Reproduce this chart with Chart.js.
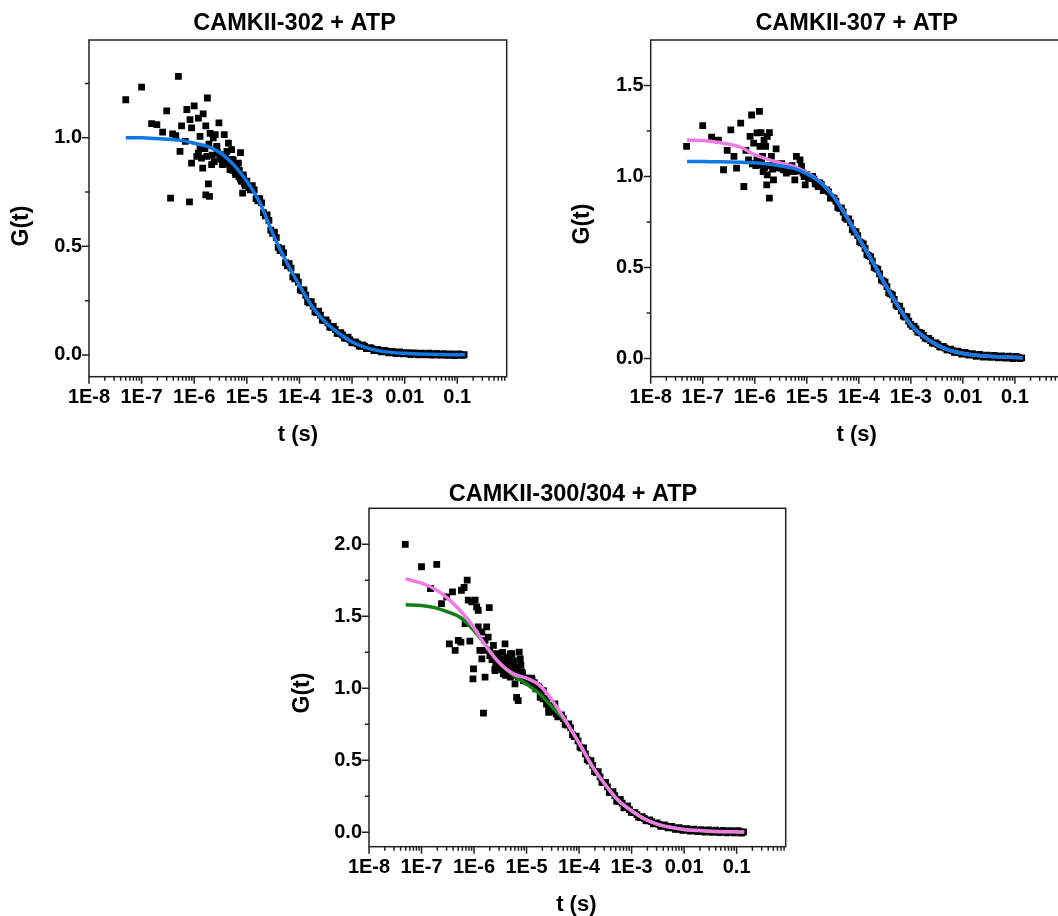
<!DOCTYPE html>
<html>
<head>
<meta charset="utf-8">
<script src="https://cdn.jsdelivr.net/npm/chart.js"></script>
<style>
  html, body { margin: 0; padding: 0; background: #fff; width: 1058px; height: 916px; overflow: hidden; }
  .panel { position: absolute; }
</style>
</head>
<body>
<div class="panel" style="left:0px;top:0px"><canvas id="c302" width="530" height="450"></canvas></div>
<div class="panel" style="left:560px;top:0px"><canvas id="c307" width="510" height="450"></canvas></div>
<div class="panel" style="left:280px;top:460px"><canvas id="c300" width="520" height="456"></canvas></div>
<script>
// x axis (lag time, s)
const xTickValues = [1e-8, 1e-7, 1e-6, 1e-5, 1e-4, 1e-3, 0.01, 0.1];
const xTickLabels = ['1E-8', '1E-7', '1E-6', '1E-5', '1E-4', '1E-3', '0.01', '0.1'];

// early, noisy part of each curve: [t, G]
const early302 = [
  [5.0e-8, 1.175], [1.0e-7, 1.233], [5.0e-7, 1.283], [3.0e-7, 1.124], [1.55e-7, 1.065], [1.95e-7, 1.06],
  [2.51e-7, 1.026], [3.89e-7, 1.018], [4.47e-7, 1.01], [5.75e-7, 1.055], [7.24e-7, 1.13], [1.0e-6, 1.147],
  [8.32e-7, 1.083], [8.91e-7, 1.045], [1.20e-6, 1.09], [1.48e-6, 1.11], [1.78e-6, 1.183], [1.66e-6, 1.055],
  [1.29e-6, 1.006], [2.0e-6, 1.02], [2.51e-6, 1.014], [2.95e-6, 1.068], [3.72e-6, 1.014], [4.47e-6, 0.975],
  [5.37e-7, 0.937], [6.76e-7, 0.983], [8.91e-7, 0.883], [1.12e-6, 0.914], [1.29e-6, 0.952], [1.45e-6, 0.86],
  [1.74e-6, 0.914], [2.14e-6, 0.876], [2.69e-6, 0.952], [3.09e-6, 0.906], [3.47e-6, 0.876], [4.17e-6, 0.937],
  [4.79e-6, 0.853], [5.50e-6, 0.899], [6.03e-6, 0.837], [6.92e-6, 0.883], [7.59e-6, 0.932], [8.51e-6, 0.822],
  [8.32e-6, 0.745], [1.86e-6, 0.788], [1.66e-6, 0.737], [1.95e-6, 0.73], [3.55e-7, 0.722], [8.13e-7, 0.705],
  [1.20e-6, 0.929], [1.38e-6, 0.906], [3.09e-6, 0.922], [4.47e-6, 0.899], [5.50e-6, 0.883], [6.46e-6, 0.86],
  [8.51e-6, 0.829], [3.47e-6, 0.88], [2.69e-6, 0.96], [5.13e-6, 0.945],
  [5.01e-6, 0.87], [5.37e-6, 0.85], [5.75e-6, 0.86], [6.17e-6, 0.83], [6.61e-6, 0.84], [7.08e-6, 0.82],
  [7.59e-6, 0.81], [8.13e-6, 0.80], [8.71e-6, 0.81], [9.33e-6, 0.78],
  [2.2e-6, 0.92], [2.4e-6, 0.89], [2.8e-6, 0.93], [3.3e-6, 0.90], [3.9e-6, 0.91], [4.3e-6, 0.88],
  [5.0e-6, 0.90], [5.8e-6, 0.86], [6.5e-6, 0.83], [7.2e-6, 0.85], [7.9e-6, 0.80], [9.0e-6, 0.79],
  [1.6e-6, 0.95], [1.9e-6, 0.97], [2.3e-6, 1.00]
];
const early307 = [
  [4.90e-8, 1.165], [1.0e-7, 1.28], [1.48e-7, 1.216], [2.0e-7, 1.20], [2.51e-7, 1.037], [2.95e-7, 1.143],
  [3.47e-7, 1.256], [3.98e-7, 1.11], [4.47e-7, 1.046], [5.37e-7, 1.293], [6.17e-7, 0.945], [6.76e-7, 1.143],
  [8.13e-7, 1.22], [8.71e-7, 1.338], [9.55e-7, 1.183], [1.10e-6, 1.24], [1.23e-6, 1.358], [1.26e-6, 1.165],
  [1.32e-6, 1.241], [1.41e-6, 1.11], [1.51e-6, 1.20], [1.62e-6, 1.165], [1.74e-6, 1.22], [1.91e-6, 1.241],
  [1.45e-6, 1.027], [1.70e-6, 0.954], [1.74e-6, 1.009], [1.91e-6, 0.881], [2.29e-6, 0.982], [2.57e-6, 1.152],
  [7.59e-7, 1.091], [1.10e-6, 1.091], [1.26e-6, 1.064], [2.09e-6, 1.11], [2.63e-6, 1.064], [3.02e-6, 1.046],
  [3.55e-6, 1.037], [4.07e-6, 1.018], [4.79e-6, 1.055], [5.50e-6, 1.027], [5.89e-6, 0.982], [6.31e-6, 1.11],
  [7.41e-6, 1.091], [7.94e-6, 1.055], [8.51e-6, 1.018], [9.33e-6, 0.954], [1.29e-5, 1.0], [1.45e-5, 0.963],
  [1.66e-5, 0.945], [9.0e-7, 1.07], [1.05e-6, 1.06], [1.15e-6, 1.10], [1.35e-6, 1.08], [1.55e-6, 1.05],
  [1.8e-6, 1.06], [2.2e-6, 1.04], [2.4e-6, 1.07], [2.8e-6, 1.05], [3.3e-6, 1.07], [3.8e-6, 1.05],
  [4.4e-6, 1.04], [5.2e-6, 1.06], [6.8e-6, 1.03], [8.9e-6, 1.0]
];
const early300 = [
  [4.90e-8, 2.0], [1.0e-7, 1.844], [1.95e-7, 1.86], [1.48e-7, 1.693], [2.40e-7, 1.588], [3.02e-7, 1.635],
  [3.89e-7, 1.67], [5.75e-7, 1.681], [6.46e-7, 1.70], [7.41e-7, 1.751], [3.39e-7, 1.309], [4.37e-7, 1.263],
  [5.01e-7, 1.333], [5.62e-7, 1.321], [8.32e-7, 1.328], [6.76e-7, 1.449], [7.76e-7, 1.612], [9.12e-7, 1.60],
  [1.05e-6, 1.612], [1.12e-6, 1.565], [1.20e-6, 1.542], [9.77e-7, 1.135], [9.55e-7, 1.065], [1.62e-6, 1.077],
  [1.51e-6, 0.828], [1.95e-6, 1.56], [1.20e-6, 1.426], [1.41e-6, 1.391], [1.51e-6, 1.263], [1.62e-6, 1.333],
  [1.74e-6, 1.426], [1.86e-6, 1.356], [2.0e-6, 1.263], [1.29e-6, 1.263], [1.41e-6, 1.205], [2.34e-6, 1.298],
  [2.69e-6, 1.24], [2.51e-6, 1.123], [3.16e-6, 1.147], [3.89e-6, 1.309], [4.17e-6, 1.216], [4.47e-6, 1.123],
  [4.90e-6, 1.077], [5.25e-6, 1.24], [5.62e-6, 1.17], [6.03e-6, 1.03], [6.46e-6, 0.937], [6.92e-6, 0.914],
  [7.24e-6, 1.251], [7.59e-6, 1.205], [8.13e-6, 1.112], [8.71e-6, 1.053], [1.82e-5, 0.937], [2.09e-5, 0.984],
  [2.40e-5, 0.891], [2.63e-5, 0.833], [3.47e-5, 0.891], [3.72e-5, 0.821], [2.51e-6, 1.135], [3.63e-6, 1.10],
  [4.90e-6, 1.239], [5.62e-6, 1.192], [2.88e-6, 1.215], [3.39e-6, 1.18], [2.0e-6, 1.227],
  [3.0e-6, 1.17], [3.4e-6, 1.13], [3.7e-6, 1.20], [4.2e-6, 1.16], [4.6e-6, 1.19], [5.3e-6, 1.12],
  [5.8e-6, 1.09], [6.2e-6, 1.15], [6.6e-6, 1.13], [7.0e-6, 1.08], [7.8e-6, 1.16], [8.4e-6, 1.10],
  [9.2e-6, 1.07], [9.7e-6, 1.05], [2.2e-6, 1.20], [2.6e-6, 1.18], [3.5e-6, 1.25], [4.0e-6, 1.09],
  [5.0e-6, 1.16], [1.1e-5, 1.06], [1.25e-5, 1.07], [1.4e-5, 1.04], [1.55e-5, 1.02], [1.7e-5, 1.01]
];

// dense late part, shared lag times (two interleaved grids)
const lagT = [
  1.0e-5, 1.17e-5, 1.38e-5, 1.62e-5, 1.91e-5, 2.24e-5, 2.63e-5, 3.09e-5, 3.63e-5, 4.27e-5,
  5.01e-5, 5.89e-5, 6.92e-5, 8.13e-5, 9.55e-5, 1.12e-4, 1.32e-4, 1.55e-4, 1.82e-4, 2.14e-4,
  2.51e-4, 2.95e-4, 3.47e-4, 4.07e-4, 4.79e-4, 5.62e-4, 6.61e-4, 7.76e-4, 9.12e-4, 1.07e-3,
  1.26e-3, 1.48e-3, 1.74e-3, 2.04e-3, 2.40e-3, 2.82e-3, 3.31e-3, 3.89e-3, 4.57e-3, 5.37e-3,
  6.31e-3, 7.41e-3, 8.71e-3, 1.02e-2, 1.20e-2, 1.41e-2, 1.66e-2, 1.95e-2, 2.29e-2, 2.69e-2,
  3.16e-2, 3.72e-2, 4.37e-2, 5.13e-2, 6.03e-2, 7.08e-2, 8.32e-2, 9.77e-2, 1.15e-1, 1.35e-1
];
const lagT2 = [
  1.08e-5, 1.27e-5, 1.50e-5, 1.76e-5, 2.07e-5, 2.43e-5, 2.85e-5, 3.35e-5, 3.94e-5, 4.62e-5,
  5.43e-5, 6.38e-5, 7.50e-5, 8.81e-5, 1.04e-4, 1.22e-4, 1.43e-4, 1.68e-4, 1.97e-4, 2.32e-4,
  2.72e-4, 3.20e-4, 3.76e-4, 4.42e-4, 5.19e-4, 6.10e-4, 7.16e-4, 8.41e-4, 9.89e-4, 1.16e-3,
  1.36e-3, 1.60e-3, 1.88e-3, 2.21e-3, 2.60e-3, 3.05e-3, 3.59e-3, 4.22e-3, 4.95e-3, 5.82e-3,
  6.84e-3, 8.04e-3, 9.44e-3, 1.11e-2, 1.30e-2, 1.53e-2, 1.80e-2, 2.11e-2, 2.48e-2, 2.92e-2,
  3.43e-2, 4.03e-2, 4.73e-2, 5.56e-2, 6.53e-2, 7.67e-2, 9.02e-2, 1.06e-1, 1.24e-1
];
const tail302 = [
  0.80, 0.76, 0.76, 0.71, 0.70, 0.64, 0.62, 0.56, 0.54, 0.48,
  0.47, 0.41, 0.40, 0.35, 0.335, 0.295, 0.275, 0.24, 0.225, 0.195,
  0.183, 0.158, 0.148, 0.127, 0.118, 0.098, 0.092, 0.078, 0.07, 0.056,
  0.052, 0.041, 0.039, 0.03, 0.029, 0.021, 0.021, 0.016, 0.016, 0.012,
  0.012, 0.009, 0.010, 0.007, 0.008, 0.005, 0.007, 0.004, 0.005, 0.003,
  0.004, 0.002, 0.004, 0.001, 0.003, 0.001, 0.002, 0.000, 0.002, 0.001
];
const tail302b = [
  0.77, 0.78, 0.72, 0.72, 0.655, 0.645, 0.575, 0.565, 0.495, 0.49,
  0.425, 0.42, 0.36, 0.36, 0.30, 0.30, 0.245, 0.245, 0.198, 0.202,
  0.16, 0.162, 0.128, 0.132, 0.099, 0.103, 0.078, 0.082, 0.057, 0.06,
  0.041, 0.046, 0.029, 0.034, 0.02, 0.026, 0.014, 0.021, 0.01, 0.016,
  0.006, 0.014, 0.005, 0.011, 0.002, 0.010, 0.001, 0.009, 0.000, 0.008,
  -0.001, 0.007, -0.001, 0.006, -0.002, 0.005, -0.003, 0.005, -0.002
];
const tail307 = [
  1.01, 0.99, 0.985, 0.965, 0.955, 0.925, 0.915, 0.885, 0.865, 0.825,
  0.805, 0.765, 0.745, 0.695, 0.675, 0.635, 0.605, 0.565, 0.535, 0.495,
  0.465, 0.425, 0.395, 0.355, 0.325, 0.285, 0.262, 0.228, 0.205, 0.178,
  0.163, 0.142, 0.127, 0.108, 0.099, 0.084, 0.077, 0.063, 0.057, 0.047,
  0.043, 0.035, 0.033, 0.027, 0.026, 0.021, 0.020, 0.016, 0.016, 0.012,
  0.013, 0.010, 0.011, 0.008, 0.009, 0.006, 0.007, 0.005, 0.006, 0.004
];
const tail307b = [
  0.99, 1.0, 0.958, 0.965, 0.923, 0.927, 0.881, 0.88, 0.831, 0.827,
  0.773, 0.767, 0.708, 0.697, 0.641, 0.63, 0.571, 0.56, 0.501, 0.49,
  0.431, 0.42, 0.361, 0.35, 0.293, 0.287, 0.233, 0.23, 0.187, 0.176,
  0.145, 0.14, 0.112, 0.11, 0.085, 0.086, 0.064, 0.067, 0.047, 0.052,
  0.034, 0.041, 0.024, 0.033, 0.018, 0.027, 0.012, 0.022, 0.008, 0.019,
  0.006, 0.017, 0.004, 0.015, 0.002, 0.013, 0.000, 0.012, -0.001
];
const tail300 = [
  1.07, 1.05, 1.03, 1.00, 0.96, 0.93, 0.88, 0.84, 0.83, 0.81,
  0.79, 0.745, 0.725, 0.665, 0.635, 0.585, 0.545, 0.495, 0.465, 0.415,
  0.385, 0.345, 0.315, 0.275, 0.255, 0.215, 0.203, 0.172, 0.158, 0.137,
  0.123, 0.102, 0.097, 0.08, 0.074, 0.06, 0.055, 0.044, 0.042, 0.033,
  0.031, 0.024, 0.023, 0.017, 0.018, 0.013, 0.014, 0.010, 0.011, 0.008,
  0.009, 0.006, 0.007, 0.004, 0.006, 0.003, 0.005, 0.002, 0.004, 0.002
];
const tail300b = [
  1.042, 1.058, 0.997, 1.001, 0.927, 0.923, 0.85, 0.858, 0.802, 0.816,
  0.75, 0.753, 0.677, 0.668, 0.592, 0.586, 0.505, 0.498, 0.422, 0.421,
  0.347, 0.346, 0.277, 0.283, 0.217, 0.228, 0.17, 0.183, 0.139, 0.137,
  0.105, 0.108, 0.081, 0.086, 0.059, 0.066, 0.042, 0.051, 0.03, 0.041,
  0.02, 0.032, 0.013, 0.026, 0.008, 0.022, 0.004, 0.019, 0.002, 0.017,
  0.000, 0.015, -0.002, 0.013, -0.003, 0.012, -0.004, 0.011, -0.005
];

// fitted curves
const fitT = [
  5.0e-8, 1.0e-7, 1.78e-7, 3.16e-7, 5.62e-7, 1.0e-6, 1.78e-6, 3.16e-6, 5.62e-6, 1.0e-5, 1.78e-5, 3.16e-5,
  5.62e-5, 1.0e-4, 1.78e-4, 3.16e-4, 5.62e-4, 1.0e-3, 1.78e-3, 3.16e-3, 5.62e-3, 1.0e-2, 3.16e-2, 1.4e-1
];
const fit302 = [1.0, 1.0, 0.997, 0.993, 0.988, 0.975, 0.96, 0.93, 0.875, 0.80, 0.70, 0.555,
  0.43, 0.32, 0.22, 0.15, 0.10, 0.06, 0.035, 0.02, 0.012, 0.008, 0.003, 0.001];
const fit307a = [1.082, 1.082, 1.081, 1.08, 1.078, 1.075, 1.068, 1.058, 1.045, 1.015, 0.97, 0.895,
  0.785, 0.66, 0.54, 0.41, 0.29, 0.185, 0.12, 0.075, 0.045, 0.028, 0.012, 0.004];
const fit307b = [1.20, 1.198, 1.19, 1.178, 1.158, 1.12, 1.094, 1.073, 1.055, 1.02, 0.972, 0.897,
  0.787, 0.662, 0.54, 0.41, 0.29, 0.185, 0.12, 0.075, 0.045, 0.028, 0.012, 0.004];
const fit300a = [1.76, 1.73, 1.69, 1.625, 1.535, 1.42, 1.28, 1.17, 1.10, 1.07, 1.02, 0.91,
  0.77, 0.62, 0.46, 0.33, 0.22, 0.15, 0.092, 0.055, 0.034, 0.019, 0.008, 0.002];
const fit300b = [1.58, 1.575, 1.56, 1.53, 1.49, 1.40, 1.285, 1.17, 1.09, 1.03, 0.96, 0.865,
  0.765, 0.62, 0.46, 0.33, 0.22, 0.15, 0.092, 0.055, 0.034, 0.019, 0.008, 0.002];

const FONT = '"Liberation Sans", Arial, sans-serif';
const BLUE = '#0f78e4', PINK = '#f07be6', GREEN = '#138013';

// Origin-style box, outward ticks and the texts
const originFrame = {
  id: 'originFrame',
  afterDraw(chart, args, o) {
    const {ctx, chartArea: a, scales: {x, y}} = chart;
    ctx.save();
    ctx.strokeStyle = '#222';
    ctx.lineWidth = 1.5;
    ctx.strokeRect(a.left, a.top, a.right - a.left, a.bottom - a.top);
    ctx.beginPath();
    xTickValues.forEach(v => {
      for (let m = 1; m < 10; m++) {
        const t = v * m;
        if (t > x.max) break;
        const px = x.getPixelForValue(t);
        ctx.moveTo(px, a.bottom);
        ctx.lineTo(px, a.bottom + (m === 1 ? 7 : 4));
      }
    });
    o.yMajor.forEach(v => {
      let py = y.getPixelForValue(v);
      ctx.moveTo(a.left, py); ctx.lineTo(a.left - 7, py);
      if (v + 0.25 < y.max) {
        py = y.getPixelForValue(v + 0.25);
        ctx.moveTo(a.left, py); ctx.lineTo(a.left - 4, py);
      }
    });
    ctx.stroke();

    ctx.fillStyle = '#000';
    ctx.textAlign = 'center';
    ctx.textBaseline = 'middle';
    ctx.font = 'bold 23.5px ' + FONT;
    ctx.fillText(o.title, o.titleX, o.titleY);
    ctx.font = 'bold 22px ' + FONT;
    ctx.fillText('t (s)', o.xTitleX, o.xTitleY);
    ctx.font = 'bold 23px ' + FONT;
    ctx.translate(o.yTitleX, o.yTitleY);
    ctx.rotate(-Math.PI / 2);
    ctx.fillText('G(t)', 0, 0);
    ctx.restore();
  }
};

function scatterSet(early, tail, tail2) {
  const pts = early.map(([t, g]) => ({x: t, y: g}))
    .concat(lagT.map((t, i) => ({x: t, y: tail[i]})))
    .concat(lagT2.map((t, i) => ({x: t, y: tail2[i]})));
  return {
    data: pts, backgroundColor: '#000', borderWidth: 0,
    pointStyle: 'rect', pointRadius: 4.8
  };
}
function fitSet(vals, color) {
  return {
    data: fitT.map((t, i) => ({x: t, y: vals[i]})),
    showLine: true, borderColor: color, borderWidth: 3.5, pointRadius: 0,
    cubicInterpolationMode: 'monotone', fill: false
  };
}

function makePanel(id, p) {
  const tickFont = {family: FONT, size: 20, weight: 'bold'};
  return new Chart(document.getElementById(id), {
    type: 'scatter',
    data: {datasets: p.datasets},
    options: {
      responsive: false,
      animation: false,
      events: [],
      layout: {padding: {top: p.top, right: p.right, left: 0, bottom: 0}},
      plugins: {
        legend: {display: false},
        tooltip: {enabled: false},
        originFrame: p.frame
      },
      scales: {
        x: {
          type: 'logarithmic', min: 1e-8, max: p.xMax, bounds: 'data',
          grid: {display: false, drawTicks: false}, border: {display: false},
          afterBuildTicks: s => { s.ticks = xTickValues.map(v => ({value: v})); },
          afterFit: s => { s.height = p.xAxisH; },
          ticks: {
            autoSkip: false, maxRotation: 0, padding: 8.5, color: '#000', font: tickFont,
            callback: (v, i) => xTickLabels[i]
          }
        },
        y: {
          type: 'linear', min: -0.1, max: p.yMax, bounds: 'data',
          grid: {display: false, drawTicks: false}, border: {display: false},
          afterBuildTicks: s => { s.ticks = p.frame.yMajor.map(v => ({value: v})); },
          afterFit: s => { s.width = p.yAxisW; },
          ticks: {padding: 7, color: '#000', font: tickFont, callback: v => v.toFixed(1)}
        }
      }
    },
    plugins: [originFrame]
  });
}

makePanel('c302', {
  datasets: [fitSet(fit302, BLUE), scatterSet(early302, tail302, tail302b)],
  top: 40, right: 23.3, xAxisH: 73.3, yAxisW: 89, xMax: 0.87, yMax: 1.45,
  frame: {yMajor: [0, 0.5, 1.0], title: 'CAMKII-302 + ATP', titleX: 294.5, titleY: 24,
    xTitleX: 298, xTitleY: 435, yTitleX: 22, yTitleY: 226}
});
makePanel('c307', {
  datasets: [fitSet(fit307a, BLUE), fitSet(fit307b, PINK), scatterSet(early307, tail307, tail307b)],
  top: 40, right: 7.3, xAxisH: 73.3, yAxisW: 90.7, xMax: 0.83, yMax: 1.75,
  frame: {yMajor: [0, 0.5, 1.0, 1.5], title: 'CAMKII-307 + ATP', titleX: 296.7, titleY: 24,
    xTitleX: 296.7, xTitleY: 435, yTitleX: 23, yTitleY: 224}
});
makePanel('c300', {
  datasets: [fitSet(fit300a, PINK), fitSet(fit300b, GREEN), scatterSet(early300, tail300, tail300b)],
  top: 48.3, right: 14.3, xAxisH: 69.3, yAxisW: 89, xMax: 0.86, yMax: 2.25,
  frame: {yMajor: [0, 0.5, 1.0, 1.5, 2.0], title: 'CAMKII-300/304 + ATP', titleX: 293, titleY: 35,
    xTitleX: 296.3, xTitleY: 445, yTitleX: 22.5, yTitleY: 233}
});
</script>
</body>
</html>
